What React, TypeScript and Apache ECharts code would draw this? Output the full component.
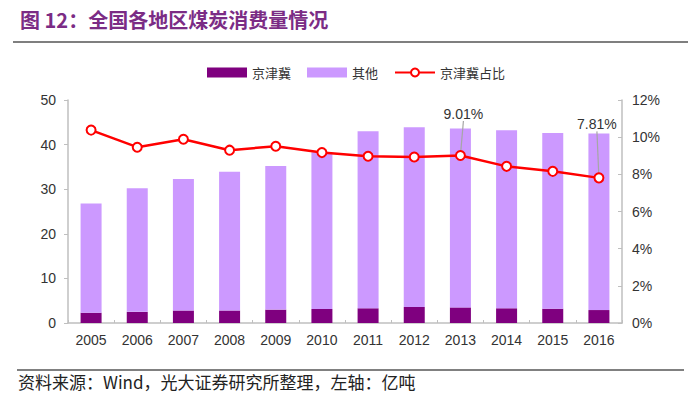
import React, { useEffect, useRef } from "react";
import * as echarts from "echarts";

const years = ["2005", "2006", "2007", "2008", "2009", "2010", "2011", "2012", "2013", "2014", "2015", "2016"];
const jjj = [2.3, 2.5, 2.8, 2.8, 3.0, 3.15, 3.3, 3.6, 3.5, 3.3, 3.2, 2.9];
const other = [24.5, 27.7, 29.5, 31.1, 32.2, 35.15, 39.7, 40.3, 40.1, 39.9, 39.4, 39.6];
const ratio = [10.38, 9.46, 9.89, 9.3, 9.51, 9.17, 8.97, 8.93, 9.01, 8.43, 8.16, 7.81];
const labelledIdx = [8, 11];
const leftTicks = { min: 0, max: 50, interval: 10 };
const rightTicks = { min: 0, max: 12, interval: 2 };

const TITLE = "图 12：全国各地区煤炭消费量情况";
const SOURCE = "资料来源：Wind，光大证券研究所整理，左轴：亿吨";

export default function App() {
  const ref = useRef<HTMLDivElement>(null);
  useEffect(() => {
    if (!ref.current) return;
    const chart = echarts.init(ref.current, null, { renderer: "svg" });
    const axisColor = "#BFBFBF";
    const labelColor = "#333333";
    const cjk = '"Noto Sans CJK SC", sans-serif';
    const latin = '"Liberation Sans", Arial, sans-serif';
    chart.setOption({
      animation: false,
      backgroundColor: "#ffffff",
      grid: { left: 68, right: 72, top: 100, bottom: 72 },
      legend: {
        top: 61,
        left: 202,
        itemWidth: 40,
        itemHeight: 10,
        itemGap: 16,
        textStyle: { fontFamily: cjk, fontSize: 13, color: "#333" },
        data: [
          { name: "京津冀", icon: "rect" },
          { name: "其他", icon: "rect" },
          { name: "京津冀占比" },
        ],
      },
      xAxis: {
        type: "category",
        data: years,
        axisLine: { lineStyle: { color: axisColor, width: 1.5 } },
        axisTick: { show: true, inside: true, length: 3, alignWithLabel: false, lineStyle: { color: axisColor } },
        axisLabel: { color: labelColor, fontFamily: latin, fontSize: 14, margin: 10 },
      },
      yAxis: [
        {
          type: "value",
          ...leftTicks,
          splitLine: { show: false },
          axisLine: { show: true, lineStyle: { color: axisColor, width: 1.5 } },
          axisTick: { show: true, length: 4, lineStyle: { color: axisColor } },
          axisLabel: { color: labelColor, fontFamily: latin, fontSize: 14, margin: 12 },
        },
        {
          type: "value",
          ...rightTicks,
          splitLine: { show: false },
          axisLine: { show: true, lineStyle: { color: axisColor, width: 1.5 } },
          axisTick: { show: true, inside: true, length: 4, lineStyle: { color: axisColor } },
          axisLabel: { color: labelColor, fontFamily: latin, fontSize: 14, margin: 10, formatter: "{value}%" },
        },
      ],
      series: [
        {
          name: "京津冀",
          type: "bar",
          stack: "total",
          barWidth: 21,
          itemStyle: { color: "#7F007F" },
          data: jjj,
        },
        {
          name: "其他",
          type: "bar",
          stack: "total",
          barWidth: 21,
          itemStyle: { color: "#CC99FF" },
          data: other,
        },
        {
          name: "京津冀占比",
          type: "line",
          yAxisIndex: 1,
          symbol: "circle",
          symbolSize: 9,
          lineStyle: { color: "#FF0000", width: 2.5 },
          itemStyle: { color: "#ffffff", borderColor: "#FF0000", borderWidth: 2 },
          z: 5,
          data: ratio.map((v, i) =>
            labelledIdx.includes(i)
              ? {
                  value: v,
                  label: {
                    show: true,
                    position: "top",
                    formatter: v.toFixed(2) + "%",
                    color: "#333",
                    fontFamily: latin,
                    fontSize: 14,
                  },
                }
              : v
          ),
          labelLine: { show: true, lineStyle: { color: "#A6A6A6", width: 1.2 } },
          labelLayout: (p: any) => ({ dy: p.dataIndex === 11 ? -36 : -24, dx: p.dataIndex === 8 ? 3 : -2 }),
        },
      ],
      graphic: [
        {
          type: "text",
          left: 20,
          top: 9,
          style: { text: TITLE, fill: "#7B2C85", font: `bold 20px ${cjk}` },
        },
        {
          type: "line",
          shape: { x1: 13, y1: 42, x2: 688, y2: 42 },
          style: { stroke: "#555", lineWidth: 1.5 },
        },
        {
          type: "line",
          shape: { x1: 17, y1: 370, x2: 684, y2: 370 },
          style: { stroke: "#808080", lineWidth: 2 },
        },
        {
          type: "text",
          left: 18,
          top: 373,
          style: { text: SOURCE, fill: "#222", font: `17px ${cjk}` },
        },
      ],
    });
    return () => chart.dispose();
  }, []);
  return <div ref={ref} style={{ width: 694, height: 395, position: "absolute", left: 0, top: 0 }} />;
}
